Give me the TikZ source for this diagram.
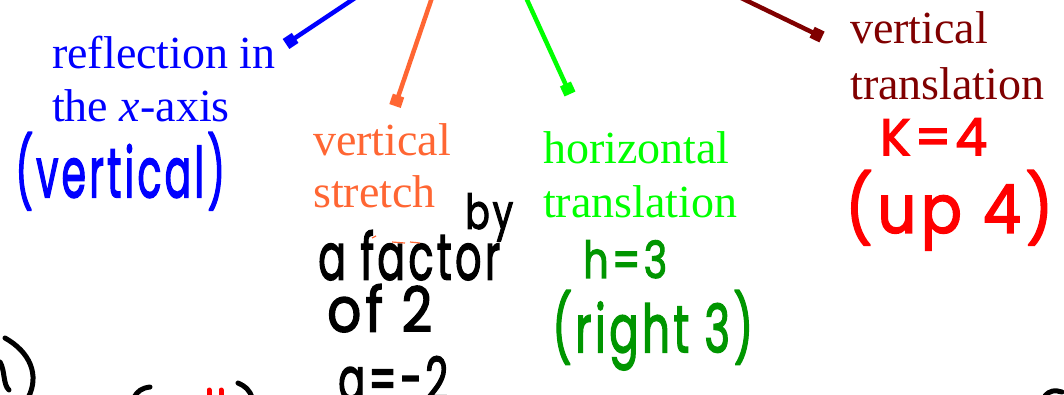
\documentclass[tikz,border=0pt]{standalone}
\usepackage{fontspec}
\setmainfont{Liberation Serif}
\newfontfamily\hand{Poppins}[FakeBold=2.5,LetterSpace=8]
\usetikzlibrary{arrows.meta}
\definecolor{myblue}{RGB}{0,0,255}
\definecolor{myorange}{RGB}{255,102,51}
\definecolor{mygreen}{RGB}{0,255,0}
\definecolor{mymaroon}{RGB}{128,0,0}
\definecolor{penred}{RGB}{255,0,0}
\definecolor{pengreen}{RGB}{0,150,0}
\definecolor{penblue}{RGB}{0,0,255}
\newcommand{\hw}[3]{\resizebox*{#1pt}{#2pt}{\hand #3}}
\begin{document}
\begin{tikzpicture}[x=1pt,y=-1pt,
  lbl/.style={anchor=base west, inner sep=0pt, font=\fontsize{46}{52}\selectfont},
  hnd/.style={anchor=north west, inner sep=0pt},
  conn/.style={line width=4.5pt, -{Square[length=11pt,width=12pt]}},
  pen/.style={line width=5pt, line cap=round, line join=round}]
\useasboundingbox (0,0) rectangle (1064,394);
\clip (0,0) rectangle (1064,394);
% connectors from off-picture source
\coordinate (srcB) at (382,-20);
\coordinate (tipB) at (286,44);
\coordinate (srcO) at (438,-20);
\coordinate (tipO) at (395,106);
\coordinate (srcG) at (518,-20);
\coordinate (tipG) at (570,94);
\coordinate (srcM) at (704,-20);
\coordinate (tipM) at (822,37);
\draw[conn, myblue] (srcB) -- (tipB);
\draw[conn, myorange] (srcO) -- (tipO);
\draw[conn, mygreen] (srcG) -- (tipG);
\draw[conn, mymaroon] (srcM) -- (tipM);
% typed labels
\node[lbl, text=myblue] (refl1) at (52,68) {reflection in};
\node[lbl, text=myblue] (refl2) at (52,121) {the \textit{x}-axis};
\node[lbl, text=myorange] (vs1) at (313,155) {vertical};
\node[lbl, text=myorange] (vs2) at (313,207) {stretch};
\node[lbl, text=mygreen] (ht1) at (543,163) {horizontal};
\node[lbl, text=mygreen] (ht2) at (543,217) {translation};
\node[lbl, text=mymaroon] (vt1) at (850,43) {vertical};
\node[lbl, text=mymaroon] (vt2) at (850,99) {translation};
% handwritten notes
\node[hnd, text=penblue] (hvert) at (15,132) {\hw{210}{78}{(vertical)}};
\node[hnd] (hby) at (465,193) {\hw{48}{48}{by}};
\node[hnd] (hfac) at (318,230) {\hw{182}{50}{a factor}};
\node[hnd] (hof) at (327,284) {\hw{105}{48}{of 2}};
\node[hnd] (ha) at (338,356) {\hw{110}{45}{a=-2}};
\node[hnd, text=pengreen] (hh) at (583,240) {\hw{84}{38}{h=3}};
\node[hnd, text=pengreen] (hright) at (552,290) {\hw{201}{80}{(right 3)}};
\node[hnd, text=penred] (hk) at (880,118) {\hw{107}{37}{K=4}};
\node[hnd, text=penred] (hup) at (845,170) {\hw{208}{80}{(up 4)}};
% erased orange remnants
\draw[myorange, line width=1.2pt] (372,238) -- (376,236);
\draw[myorange, line width=1.2pt] (392,242) -- (405,243);
\draw[myorange, line width=1.2pt] (410,242) -- (420,243);
% partial pen strokes at the bottom edge
\draw[pen] (5,338) .. controls (30,352) and (40,375) .. (28,398);
\draw[pen] (0,362) .. controls (5,370) and (3,385) .. (9,390);
\draw[pen] (150,387) .. controls (142,388) and (137,391) .. (134,398);
\draw[pen, penred] (209,390) -- (209,398);
\draw[pen, penred] (221,390) -- (221,398);
\draw[pen] (238,383) .. controls (245,386) and (250,390) .. (252,398);
\draw[pen] (1045,396) .. controls (1050,390) and (1055,390) .. (1062,392);
\end{tikzpicture}
\end{document}
